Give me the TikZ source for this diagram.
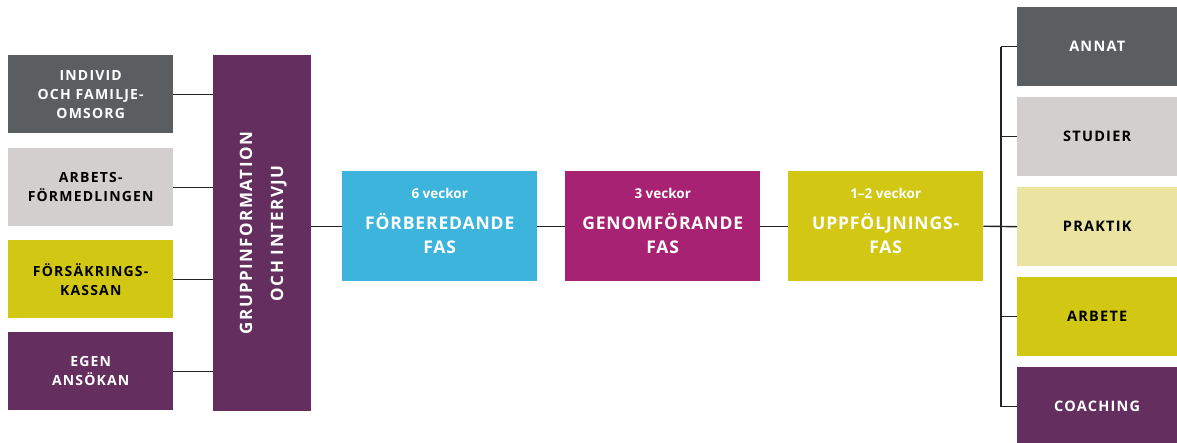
\documentclass[tikz,border=0pt]{standalone}
\usepackage{fontspec}
\setmainfont{Open Sans}
\newfontfamily\spacedfont[LetterSpace=8.5]{Open Sans}
\newfontfamily\titlefont[LetterSpace=5]{Open Sans}
\usetikzlibrary{positioning}
\definecolor{slate}{HTML}{5A5E60}
\definecolor{stone}{HTML}{D2CFCE}
\definecolor{lime}{HTML}{D2C814}
\definecolor{straw}{HTML}{EBE3A0}
\definecolor{plum}{HTML}{642F5F}
\definecolor{sky}{HTML}{3DB4DB}
\definecolor{berry}{HTML}{A82273}
\definecolor{wire}{HTML}{222222}
\begin{document}
\begin{tikzpicture}[x=1pt,y=-1pt]
	\tikzstyle{source} = [anchor=north west, minimum width=165pt, minimum height=78pt, inner sep=0pt, align=center, font=\spacedfont\bfseries\fontsize{14}{19}\selectfont]
	\tikzstyle{phasebox} = [anchor=north west, minimum width=195pt, minimum height=110pt, inner sep=0pt]
	\tikzstyle{weeks} = [text=white, inner sep=0pt, font=\bfseries\fontsize{13.5}{16}\selectfont]
	\tikzstyle{title} = [text=white, inner sep=0pt, align=center, font=\titlefont\bfseries\fontsize{17.5}{24}\selectfont]
	\tikzstyle{outcome} = [anchor=north west, minimum width=160pt, minimum height=79pt, inner sep=0pt, align=center, font=\spacedfont\bfseries\fontsize{14.5}{19}\selectfont]
	\tikzstyle{link} = [draw=wire, line width=1.4pt]
	\useasboundingbox (0,0) rectangle (1177,442);

	% where the participants come from
	\foreach \name/\ypos/\col/\txtcol/\txt in {ifo/55/slate/white/{INDIVID\\OCH FAMILJE-\\OMSORG}, af/148/stone/black/{ARBETS-\\FÖRMEDLINGEN}, fk/240/lime/black/{FÖRSÄKRINGS-\\KASSAN}, egen/332/plum/white/{EGEN\\ANSÖKAN}}
		\node[source, fill=\col, text=\txtcol] (\name) at (8, \ypos) {\txt};

	\node[anchor=north west, fill=plum, minimum width=98pt, minimum height=356pt, inner sep=0pt] (grupp) at (213, 55) {};
	\node[rotate=90, text=white, align=center, font=\spacedfont\bfseries\fontsize{17}{31}\selectfont] (gruppText) at ([xshift=1pt]grupp.center) {GRUPPINFORMATION\\OCH INTERVJU};

	\foreach \name in {ifo, af, fk, egen}
		\draw[link] (\name.east) -- (\name.east -| grupp.west);

	% the three phases
	\foreach \name/\xpos/\col in {fas1/342/sky, fas2/565/berry, fas3/788/lime}
		\node[phasebox, fill=\col] (\name) at (\xpos, 171) {};

	\node[weeks] (fas1Weeks) at ([yshift=-22pt]fas1.north) {6 veckor};
	\node[weeks] (fas2Weeks) at ([yshift=-22pt]fas2.north) {3 veckor};
	\node[weeks] (fas3Weeks) at ([yshift=-22pt]fas3.north) {1–2 veckor};
	\node[title] (fas1Title) at ([yshift=-7pt]fas1.center) {FÖRBEREDANDE\\FAS};
	\node[title] (fas2Title) at ([yshift=-7pt]fas2.center) {GENOMFÖRANDE\\FAS};
	\node[title] (fas3Title) at ([yshift=-7pt]fas3.center) {UPPFÖLJNINGS-\\FAS};

	\draw[link] (grupp.east |- fas1.west) -- (fas1.west);
	\draw[link] (fas1.east) -- (fas2.west);
	\draw[link] (fas2.east) -- (fas3.west);

	% outcomes
	\foreach \name/\ypos/\col/\txtcol/\txt in {annat/7/slate/white/ANNAT, studier/97/stone/black/STUDIER, praktik/187/straw/black/PRAKTIK, arbete/277/lime/black/ARBETE, coach/367/plum/white/COACHING}
		\node[outcome, fill=\col, text=\txtcol] (\name) at (1017, \ypos) {\txt};

	\coordinate (spine) at (1001, 0);
	\draw[link] (annat.west -| spine) -- (coach.west -| spine);
	\draw[link] (fas3.east) -- (praktik.west);
	\foreach \name in {annat, studier, arbete, coach}
		\draw[link] (\name.west -| spine) -- (\name.west);
\end{tikzpicture}
\end{document}
